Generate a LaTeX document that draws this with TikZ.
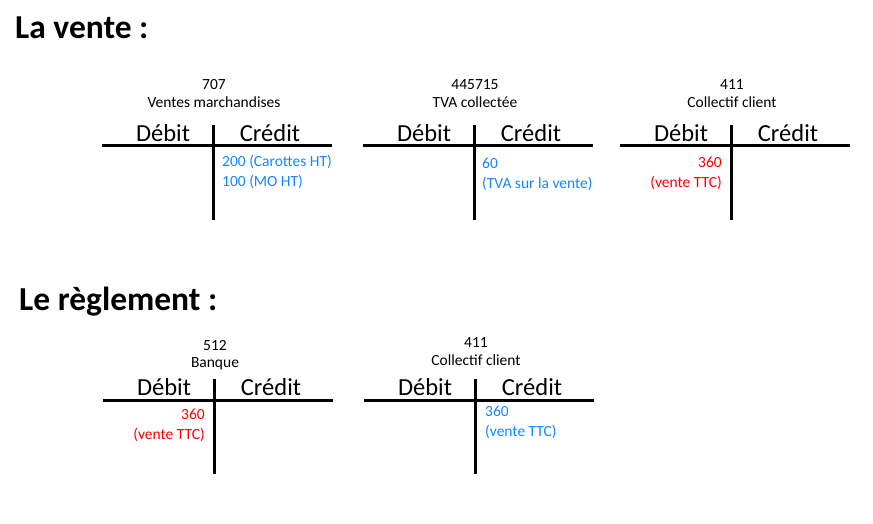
\documentclass[tikz,border=0pt]{standalone}
\usepackage{fontspec}
\setmainfont{Carlito}
\usetikzlibrary{positioning}
\definecolor{entryblue}{RGB}{20,135,255}
\definecolor{entryred}{RGB}{255,0,0}

\begin{document}
\begin{tikzpicture}[x=1pt,y=-1pt]
    \tikzstyle{tline}=[line width=3pt,black]
    \tikzstyle{title}=[anchor=west,font=\fontsize{33.5}{36}\selectfont\bfseries,inner sep=0pt]
    \tikzstyle{acclabel}=[font=\fontsize{15.5}{17}\selectfont,inner sep=0pt]
    \tikzstyle{head}=[font=\fontsize{24.5}{27}\selectfont,inner sep=0pt]
    \tikzstyle{credit entry}=[anchor=base west,align=left,text=entryblue,font=\fontsize{15.5}{19.5}\selectfont,inner sep=0pt]
    \tikzstyle{debit entry}=[anchor=base east,align=right,text=entryred,font=\fontsize{15.5}{19.5}\selectfont,inner sep=0pt]

    \useasboundingbox (0,0) rectangle (873,524);

    % Titles
    \node[title] (vente) at (15,28) {La vente :};
    \node[title] (reglement) at (19,302) {Le règlement :};

    % Draw the T accounts
    \foreach \acc/\cx/\cy/\ly/\num/\lib in {A/213/146/61/707/Ventes marchandises,
        B/474/146/61/445715/TVA collectée, C/731/146/61/411/Collectif client,
        D/214/400/54/512/Banque, E/475/400/57/411/Collectif client}
    {
        \coordinate (\acc-c) at (\cx,\cy);
        \coordinate (\acc-l) at (\cx-111,\cy);
        \coordinate (\acc-r) at (\cx+119,\cy);
        \coordinate (\acc-t) at (\cx,\cy-21);
        \coordinate (\acc-b) at (\cx,\cy+74);
        \draw[tline] (\acc-l) -- (\acc-r);
        \draw[tline] (\acc-t) -- (\acc-b);
        \node[acclabel] (\acc-num) at (\cx+1,\cy-\ly) {\num};
        \node[acclabel,below=6.5pt of \acc-num] (\acc-lib) {\lib};
        \node[head] (\acc-deb) at (\cx-50,\cy-13) {Débit};
        \node[head] (\acc-cred) at (\cx+57,\cy-13) {Crédit};
    }

    % Entries (anchored on the last line)
    \node[credit entry] (A-e) at (222,186) {200 (Carottes HT)\\100 (MO HT)};
    \node[credit entry] (B-e) at (482,188) {60\\(TVA sur la vente)};
    \node[debit entry] (C-e) at (722,187) {360\\(vente TTC)};
    \node[debit entry] (D-e) at (205,439) {360\\(vente TTC)};
    \node[credit entry] (E-e) at (485,436) {360\\(vente TTC)};
\end{tikzpicture}
\end{document}
